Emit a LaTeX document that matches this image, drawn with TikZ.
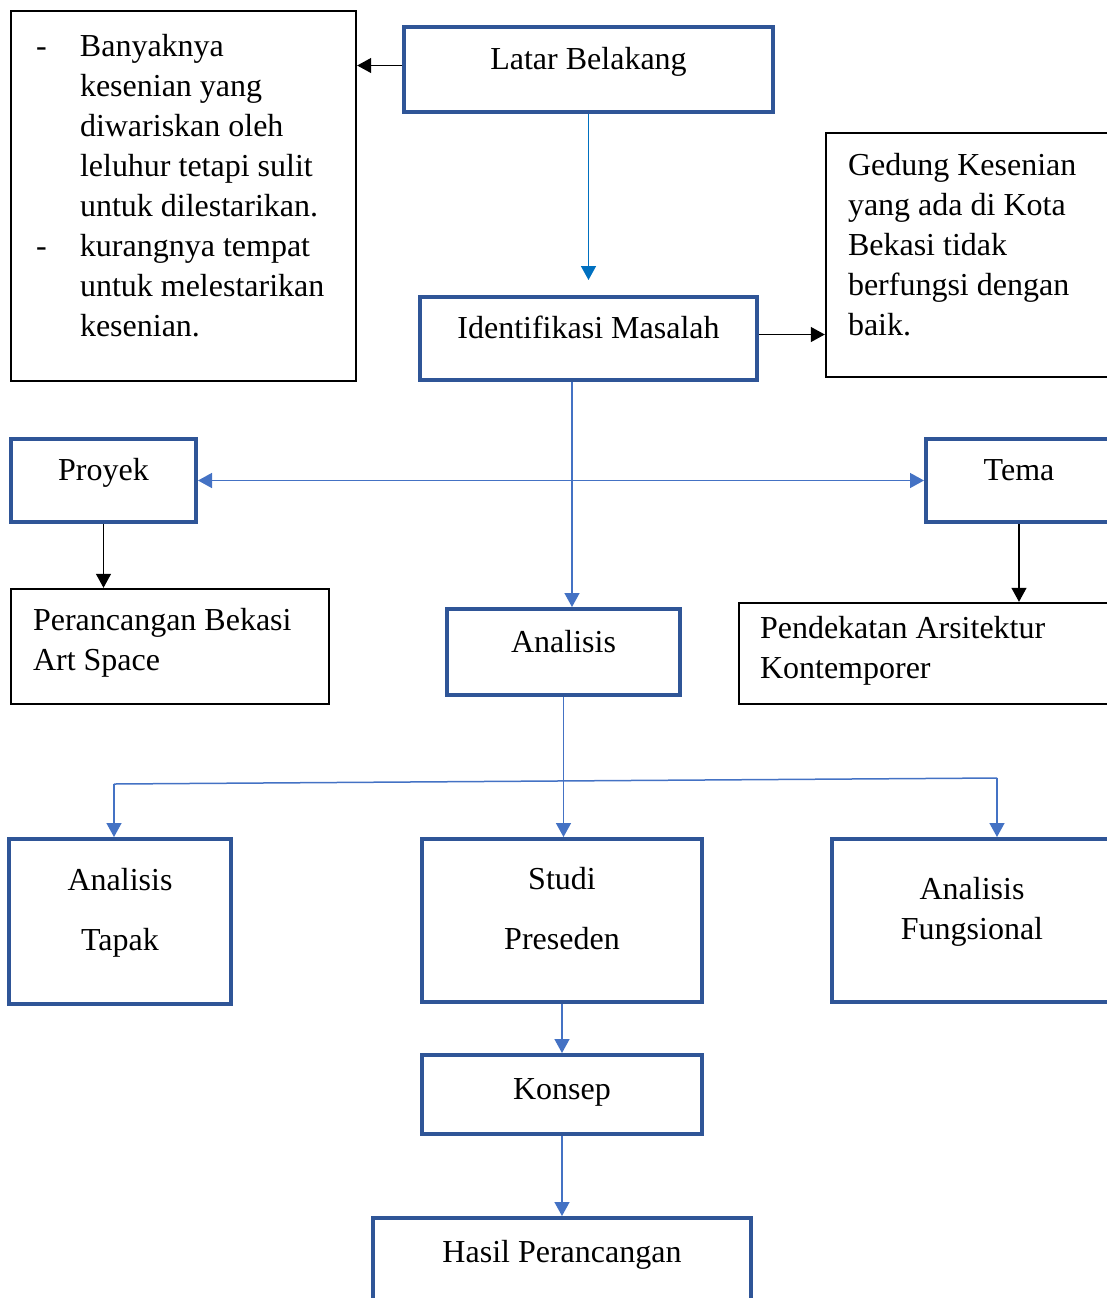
\documentclass[tikz,border=0pt]{standalone}
\usepackage{fontspec}
\setmainfont{Liberation Serif}
\usetikzlibrary{arrows.meta}

\definecolor{boxblue}{HTML}{2F5597}
\definecolor{lineblue}{HTML}{4472C4}
\definecolor{arrowblue}{HTML}{0070C0}
\setlength{\parindent}{0pt}
\newcommand{\itemdash}{\makebox[22pt][l]{-}}
\newcommand{\itemgap}{\hspace*{22pt}}

\tikzset{
    box/.style={rectangle, inner ysep=0pt,
        execute at begin node=\rule{0pt}{12pt},
        execute at end node=\rule[-12pt]{0pt}{12pt}},
    bluebox/.style={box, draw=boxblue, line width=2pt, align=center},
    blackbox/.style={box, draw=black, line width=1.2pt, align=flush left},
    lower/.style={execute at begin node=\rule{0pt}{#1}},
    blueline/.style={draw=lineblue, line width=0.75pt},
    bluearrow/.style={blueline, ->},
    blackarrow/.style={draw=black, line width=0.6pt, ->},
    >={Triangle[length=7pt,width=7.5pt]}
}

\begin{document}
\begin{tikzpicture}[x=1pt,y=-1pt,font=\fontsize{16}{20}\selectfont]
    \useasboundingbox (0,0) rectangle (553.5,649);
    \clip (0,0) rectangle (553.5,649);

    % top row
    \node[blackbox, text width=147.5pt, inner xsep=12.5pt, minimum height=185pt] (masalah) at (91.75,98) {\itemdash Banyaknya\\\itemgap kesenian yang\\\itemgap diwariskan oleh\\\itemgap leluhur tetapi sulit\\\itemgap untuk dilestarikan.\\\itemdash kurangnya tempat\\\itemgap untuk melestarikan\\\itemgap kesenian.};
    \node[bluebox, minimum width=184.5pt, minimum height=42.5pt] (latar) at (294.25,34.75) {Latar Belakang};
    \node[bluebox, minimum width=168.5pt, minimum height=41.5pt] (ident) at (294.25,169.25) {Identifikasi Masalah};
    \node[blackbox, text width=125pt, inner xsep=11pt, minimum height=122pt] (gedung) at (486.5,127.5) {Gedung Kesenian\\yang ada di Kota\\Bekasi tidak\\berfungsi dengan\\baik.};

    % middle row
    \node[bluebox, minimum width=92.5pt, minimum height=41.5pt] (proyek) at (51.75,240.25) {Proyek};
    \node[bluebox, minimum width=93pt, minimum height=41.5pt] (tema) at (509.5,240.25) {Tema};
    \node[blackbox, lower=16pt, text width=137pt, inner xsep=11pt, minimum height=57.5pt] (peranc) at (85,323.25) {Perancangan Bekasi\\Art Space};
    \node[blackbox, lower=17pt, text width=169.5pt, inner xsep=10.5pt, minimum height=50.5pt] (pendek) at (464.75,326.75) {Pendekatan Arsitektur\\Kontemporer};
    \node[bluebox, minimum width=116.5pt, minimum height=43pt] (analisis) at (281.75,326) {Analisis};

    % bottom rows
    \node[bluebox, minimum width=111pt, minimum height=82.5pt] (tapak) at (60,460.75) {Analisis\\[10pt]Tapak};
    \node[bluebox, minimum width=140pt, minimum height=81.5pt] (studi) at (281,460.25) {Studi\\[10pt]Preseden};
    \node[bluebox, minimum width=140pt, minimum height=81.5pt] (fungs) at (486,460.25) {Analisis\\Fungsional};
    \node[bluebox, lower=17pt, minimum width=140pt, minimum height=39.5pt] (konsep) at (281,547.25) {Konsep};
    \node[bluebox, minimum width=189pt, minimum height=44pt] (hasil) at (281,631) {Hasil Perancangan};

    % connectors
    \draw[blackarrow] ([yshift=2pt]latar.west) -- ([yshift=2pt]latar.west -| masalah.east);
    \draw[bluearrow, arrowblue] (latar.south) -- ([yshift=7.5pt]ident.north);
    \draw[blackarrow] ([yshift=2pt]ident.east) -- ([yshift=2pt]ident.east -| gedung.west);
    \draw[bluearrow] ([xshift=-8.25pt]ident.south) -- ([xshift=-8.25pt]ident.south |- analisis.north);
    \draw[bluearrow, <->] (proyek.east) -- (tema.west);
    \draw[blackarrow] (proyek.south) -- (proyek.south |- peranc.north);
    \draw[blackarrow] (tema.south) -- (tema.south |- pendek.north);

    \coordinate (cabangkiri) at (57,392);
    \coordinate (cabangkanan) at (498.5,389);
    \draw[blueline] (cabangkiri) -- (cabangkanan);
    \draw[bluearrow] (cabangkiri) -- (cabangkiri |- tapak.north);
    \draw[bluearrow] (cabangkanan) -- (cabangkanan |- fungs.north);
    \draw[bluearrow] (analisis.south) -- (analisis.south |- studi.north);
    \draw[bluearrow] (studi.south) -- (konsep.north);
    \draw[bluearrow] (konsep.south) -- (hasil.north);
\end{tikzpicture}
\end{document}
